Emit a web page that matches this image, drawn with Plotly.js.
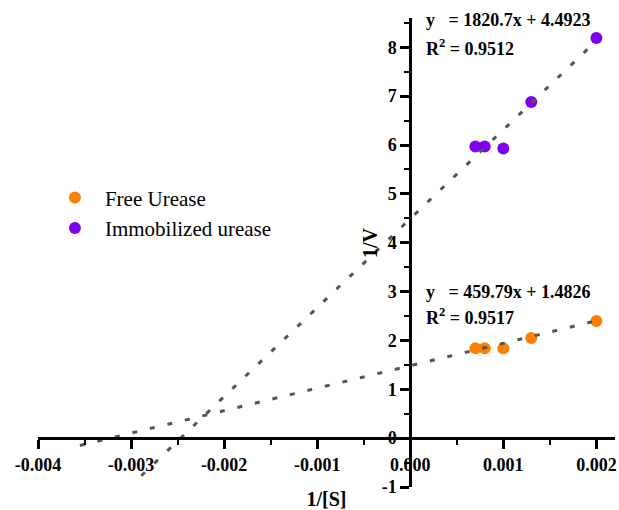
<!DOCTYPE html>
<html>
<head>
<meta charset="utf-8">
<script src="https://cdn.plot.ly/plotly-3.0.1.min.js"></script>
<style>
  html, body { margin: 0; padding: 0; background: #fff; }
  #chart { width: 619px; height: 510px; }
</style>
</head>
<body>
<div id="chart"></div>
<script>
// Lineweaver–Burk data: 1/[S] against 1/V
const invS = [0.0007, 0.0008, 0.0010, 0.0013, 0.0020];
const freeInvV = [1.84, 1.84, 1.84, 2.05, 2.40];
const immobInvV = [5.97, 5.97, 5.93, 6.88, 8.19];

// Linear fits (slope, intercept, R²) and the x-span each fitted line is drawn over
const freeFit = { slope: 459.79, intercept: 1.4826, r2: 0.9517, from: -0.00355, to: 0.0020 };
const immobFit = { slope: 1820.7, intercept: 4.4923, r2: 0.9512, from: -0.00289, to: 0.0020 };

const seriesNames = ['Free Urease', 'Immobilized urease'];
const xTickVals = [-0.004, -0.003, -0.002, -0.001, 0, 0.001, 0.002];
const xTickText = ['-0.004', '-0.003', '-0.002', '-0.001', '0.000', '0.001', '0.002'];
const xMinorVals = [-0.0035, -0.0025, -0.0015, -0.0005, 0.0005, 0.0015];
const yTickVals = [-1, 0, 1, 2, 3, 4, 5, 6, 7, 8];
const yTickText = ['-1', '0', '1', '2', '3', '4', '5', '6', '7', '8'];
const yMinorVals = [-0.5, 0.5, 1.5, 2.5, 3.5, 4.5, 5.5, 6.5, 7.5, 8.5];

const xRange = [-0.004, 0.0022];
const yRange = [-1, 8.6];

const serif = "'Liberation Serif', 'Times New Roman', serif";
const orange = '#FF8000';
const purple = '#7F00F0';
const lineGrey = '#555555';

function fitLine(fit) {
  const xs = [fit.from, fit.to];
  return { x: xs, y: xs.map(v => fit.slope * v + fit.intercept) };
}

const fLine = fitLine(freeFit);
const iLine = fitLine(immobFit);

const traces = [
  {
    x: invS, y: freeInvV, type: 'scatter', mode: 'markers', name: seriesNames[0],
    marker: { color: orange, size: 12 }
  },
  {
    x: invS, y: immobInvV, type: 'scatter', mode: 'markers', name: seriesNames[1],
    marker: { color: purple, size: 12 }
  },
  {
    x: fLine.x, y: fLine.y, type: 'scatter', mode: 'lines', showlegend: false,
    line: { color: lineGrey, width: 3, dash: '5px,13px' }, hoverinfo: 'skip'
  },
  {
    x: iLine.x, y: iLine.y, type: 'scatter', mode: 'lines', showlegend: false,
    line: { color: lineGrey, width: 3, dash: '5px,13px' }, hoverinfo: 'skip'
  }
];

// where the crossing axes sit inside the plotting area
const xAxisPos = (0 - yRange[0]) / (yRange[1] - yRange[0]);
const yAxisPos = (0 - xRange[0]) / (xRange[1] - xRange[0]);

const eqFont = { family: serif, size: 18, color: '#000', weight: 'bold' };
const tickFont = { family: serif, size: 18, color: '#000', weight: 'bold' };
const titleFont = { family: serif, size: 20, color: '#000', weight: 'bold' };

function fmtEq(fit) {
  return 'y   = ' + fit.slope + 'x + ' + fit.intercept;
}

const minorTicks = vals => ({
  tickmode: 'array', tickvals: vals, ticks: 'outside',
  ticklen: 5, tickwidth: 2, tickcolor: '#000', showgrid: false
});

const layout = {
  width: 619, height: 510,
  margin: { l: 38, r: 4, t: 18, b: 23 },
  paper_bgcolor: '#fff', plot_bgcolor: '#fff',
  font: { family: serif, color: '#000' },
  showlegend: true,
  legend: {
    x: 0.012, y: 0.66, xanchor: 'left', yanchor: 'top',
    font: { family: serif, size: 21, color: '#000' },
    bgcolor: 'rgba(0,0,0,0)', tracegroupgap: 0, itemwidth: 50
  },
  xaxis: {
    range: xRange, anchor: 'free', position: xAxisPos,
    showgrid: false, zeroline: false,
    showline: true, linecolor: '#000', linewidth: 3,
    ticks: 'outside', ticklen: 9, tickwidth: 3, tickcolor: '#000',
    tickmode: 'array', tickvals: xTickVals, ticktext: xTickText,
    tickfont: tickFont,
    minor: minorTicks(xMinorVals),
    title: { text: '1/[S]', font: titleFont, standoff: 20 }
  },
  yaxis: {
    range: yRange, anchor: 'free', position: yAxisPos,
    showgrid: false, zeroline: false,
    showline: true, linecolor: '#000', linewidth: 3,
    ticks: 'outside', ticklen: 9, tickwidth: 3, tickcolor: '#000',
    tickmode: 'array', tickvals: yTickVals, ticktext: yTickText,
    tickfont: tickFont,
    minor: minorTicks(yMinorVals)
  },
  annotations: [
    // vertical-axis title, set beside the crossing y axis
    { xref: 'paper', yref: 'paper', x: 0.575, y: 0.522, xanchor: 'center', yanchor: 'middle',
      showarrow: false, textangle: -90, text: '1/V', font: titleFont },
    { xref: 'x', yref: 'y', x: 0.00015, y: 8.55, xanchor: 'left', yanchor: 'middle', showarrow: false,
      text: fmtEq(immobFit), font: eqFont },
    { xref: 'x', yref: 'y', x: 0.00015, y: 8.0, xanchor: 'left', yanchor: 'middle', showarrow: false,
      text: 'R<sup>2</sup> = ' + immobFit.r2, font: eqFont },
    { xref: 'x', yref: 'y', x: 0.00015, y: 3.0, xanchor: 'left', yanchor: 'middle', showarrow: false,
      text: fmtEq(freeFit), font: eqFont },
    { xref: 'x', yref: 'y', x: 0.00015, y: 2.48, xanchor: 'left', yanchor: 'middle', showarrow: false,
      text: 'R<sup>2</sup> = ' + freeFit.r2, font: eqFont }
  ]
};

Plotly.newPlot('chart', traces, layout, { displayModeBar: false, staticPlot: true });
</script>
</body>
</html>
